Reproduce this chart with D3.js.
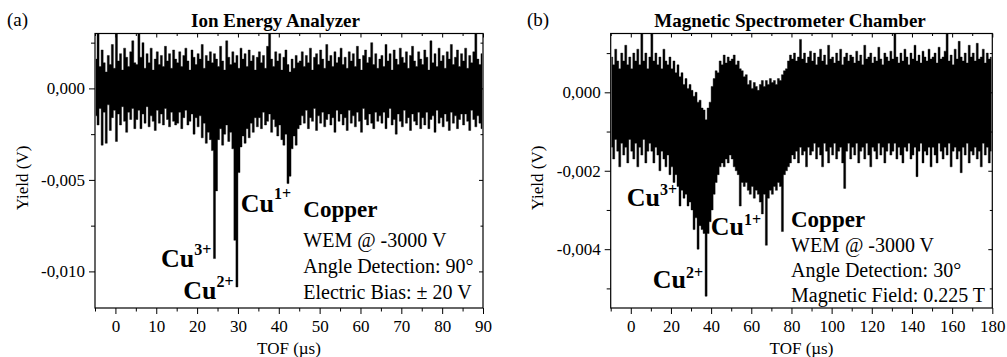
<!DOCTYPE html>
<html>
<head>
<meta charset="utf-8">
<script src="https://cdn.jsdelivr.net/npm/d3@7"></script>
<style>
  html, body { margin: 0; padding: 0; background: #fff; }
  svg { display: block; font-family: "Liberation Serif", "Times New Roman", serif; }
</style>
</head>
<body>
<svg id="chart" width="1007" height="357"></svg>
<script>
// (a) Ion Energy Analyzer: highest / lowest reading of the trace in each 0.5 us bin from -5 us, in mV
const ionStart = -5, ionStep = 0.5;
const ionHi = [
  1.6, 3.5, 1.2, 2.1, 1.4, 0.9, 1.8, 1.3, 2.4, 1.1, 3.5, 1.5, 1.9, 1.0, 2.2, 1.7, 1.2, 2.0, 2.6, 1.4,
  1.3, 3.5, 1.7, 2.5, 1.1, 1.9, 1.4, 2.2, 1.0, 1.6, 2.0, 1.3, 1.8, 1.2, 2.3, 1.5, 1.9, 1.1, 2.1, 1.6,
  1.4, 2.0, 1.2, 1.8, 2.2, 1.5, 1.0, 2.1, 1.7, 1.3, 1.9, 1.6, 2.4, 1.1, 1.8, 1.5, 2.0, 1.4, 1.9, 1.6,
  1.2, 2.3, 1.5, 1.0, 2.6, 1.7, 1.3, 2.0, 1.4, 1.8, 1.1, 2.2, 1.6, 1.9, 1.2, 2.1, 1.5, 1.8, 1.0, 1.7,
  2.0, 1.4, 1.8, 1.1, 2.3, 3.5, 1.6, 1.2, 2.0, 1.5, 1.9, 1.0, 1.7, 2.1, 1.3, 0.9, 1.6, 1.1, 1.8, 1.4,
  1.5, 2.0, 1.2, 1.8, 1.4, 2.2, 1.0, 1.7, 1.9, 1.3, 2.1, 1.6, 1.1, 2.4, 1.5, 1.8, 1.2, 2.0, 1.4, 1.7,
  2.2, 1.3, 1.7, 1.1, 2.0, 1.5, 1.9, 1.2, 2.3, 1.6, 1.0, 1.8, 2.1, 1.4, 1.7, 2.5, 1.3, 1.9, 1.1, 1.6,
  1.8, 1.2, 2.4, 1.5, 1.9, 1.0, 2.1, 1.6, 1.3, 2.2, 1.7, 1.4, 2.0, 1.1, 1.8, 2.3, 1.5, 1.2, 2.0, 1.6,
  1.3, 2.1, 1.7, 1.0, 2.6, 1.4, 1.9, 1.2, 2.2, 1.5, 1.8, 1.1, 2.0, 1.6, 2.4, 1.3, 1.7, 2.1, 1.2, 1.9,
  1.5, 2.2, 1.1, 1.8, 1.4, 2.0, 3.5, 1.6, 1.3, 1.9
];
const ionLo = [
  -1.5, -2.0, -1.1, -3.1, -1.3, -3.0, -0.9, -2.3, -1.6, -1.2, -2.9, -1.4, -2.0, -1.0, -1.8, -2.4, -1.3, -1.7, -1.1, -2.2,
  -1.7, -1.2, -2.2, -1.4, -1.9, -1.0, -2.1, -1.5, -1.8, -2.3, -1.2, -1.9, -1.4, -2.0, -1.1, -1.7, -2.1, -1.3, -1.8, -2.0,
  -1.9, -1.3, -2.2, -1.6, -1.2, -2.0, -1.8, -1.4, -2.5, -1.6, -2.1, -1.5, -2.7, -1.9, -3.0, -2.4, -2.8, -3.4, -9.3, -5.6,
  -2.8, -2.2, -3.1, -2.5, -2.0, -2.9, -2.4, -3.3, -8.3, -10.85, -4.6, -3.2, -2.6, -3.0, -2.2, -2.7, -1.9, -2.4, -1.6, -2.1,
  -1.6, -2.2, -1.3, -2.0, -1.8, -1.4, -2.4, -1.7, -2.1, -2.6, -2.0, -2.8, -3.1, -2.5, -5.2, -4.8, -3.3, -2.6, -3.1, -2.2,
  -2.0, -1.5, -1.9, -1.2, -2.2, -1.6, -1.8, -1.1, -2.3, -1.5, -1.9, -1.3, -2.1, -1.7, -1.4, -2.0, -1.6, -2.4, -1.2, -1.8,
  -1.4, -2.0, -1.6, -2.3, -1.2, -1.9, -1.5, -2.1, -1.3, -1.8, -2.4, -1.1, -1.7, -2.0, -1.4, -1.9, -2.2, -1.3, -1.8, -1.5,
  -1.9, -1.3, -2.2, -1.6, -1.1, -2.0, -1.7, -2.5, -1.4, -1.8, -2.1, -1.2, -1.9, -1.6, -2.3, -1.4, -1.8, -2.0, -1.3, -2.2,
  -1.6, -2.0, -1.3, -2.2, -1.7, -1.5, -2.4, -1.2, -1.9, -1.6, -2.1, -1.4, -1.8, -2.3, -1.3, -1.9, -1.5, -2.2, -1.7, -1.4,
  -2.0, -1.4, -1.8, -2.3, -1.2, -1.7, -2.1, -1.5, -1.9, -2.2
];

// (b) Magnetic Spectrometer Chamber: same, 1 us bins from -10 us, in mV
const magStart = -10, magStep = 1;
const magHi = [
  0.9, 0.7, 1.1, 0.8, 0.6, 1.0, 0.8, 1.2, 0.7, 0.9, 0.6, 1.0, 0.8, 1.1, 0.7, 1.6, 0.8, 1.0, 0.6, 0.9,
  1.6, 0.8, 1.0, 0.7, 0.9, 0.6, 1.1, 0.8, 0.7, 0.9, 0.6, 0.8, 0.5, 0.7, 0.4, 0.5, 0.2, 0.35, 0.1, 0.2,
  0.05, -0.1, 0.0, -0.25, -0.2, -0.4, -0.45, -0.7, -0.4, -0.25, 0.15, 0.35, 0.55, 0.5, 0.8, 0.7, 0.95, 0.75, 0.9, 0.8,
  0.85, 0.95, 0.7, 0.8, 0.6, 0.55, 0.4, 0.45, 0.2, 0.3, 0.1, 0.25, 0.15, 0.05, 0.2, 0.3, 0.15, 0.3, 0.2, 0.35,
  0.25, 0.3, 0.2, 0.35, 0.3, 0.45, 0.55, 0.6, 0.8, 0.95, 0.85, 1.0, 0.8, 0.9, 1.35, 0.85, 1.0, 0.75, 0.9, 1.05,
  0.8, 1.0, 0.7, 0.9, 1.1, 0.8, 0.95, 0.7, 1.2, 0.85, 0.9, 0.75, 1.0, 0.8, 1.1, 0.7, 0.9, 1.0, 0.8, 0.95,
  0.9, 0.75, 1.05, 0.8, 0.95, 0.7, 1.2, 0.85, 0.9, 1.0, 0.75, 0.9, 0.8, 1.15, 0.85, 0.7, 1.0, 0.9, 0.8, 1.05,
  0.85, 1.6, 0.9, 0.75, 1.0, 0.8, 1.1, 0.9, 0.7, 1.0, 0.85, 1.2, 0.8, 0.95, 0.75, 1.05, 0.9, 0.8, 1.1, 0.85,
  0.9, 1.0, 0.75, 1.15, 0.85, 0.9, 1.05, 1.6, 0.8, 0.95, 0.7, 1.1, 0.85, 1.3, 0.9, 0.8, 1.0, 0.75, 1.2, 0.9,
  1.0, 0.8, 1.25, 0.85, 0.9, 1.1, 0.75, 1.0, 0.85, 0.9
];
const magLo = [
  -1.4, -1.7, -1.2, -1.5, -1.9, -1.3, -1.6, -1.4, -1.8, -1.2, -1.5, -1.7, -1.3, -1.9, -1.4, -1.6, -1.2, -1.8, -1.5, -1.3,
  -1.5, -1.8, -1.4, -1.6, -2.0, -1.5, -1.7, -1.9, -1.6, -2.1, -1.9, -2.3, -2.1, -2.4, -2.9, -2.5, -2.7, -2.6, -2.9, -2.8,
  -3.0, -3.5, -3.2, -4.0, -3.4, -3.5, -3.6, -5.2, -3.6, -3.3, -3.0, -2.6, -2.3, -2.1, -1.9, -1.8, -1.9, -1.7, -1.8, -1.6,
  -1.7, -1.9, -2.0, -2.1, -2.9, -2.3, -2.4, -2.3, -2.5, -2.6, -2.4, -2.7, -2.5, -2.6, -2.8, -3.1, -2.6, -3.9, -2.7, -2.5,
  -2.6, -2.4, -2.5, -2.3, -2.4, -3.55, -2.1, -2.0, -1.9, -1.8, -1.6, -1.7, -1.5, -1.8, -1.4, -1.6, -1.5, -1.9, -1.4, -1.6,
  -1.5, -1.3, -1.7, -1.4, -1.6, -1.9, -1.3, -1.5, -1.8, -1.4, -1.6, -1.3, -1.7, -1.5, -1.4, -1.8, -2.45, -1.5, -1.3, -1.7,
  -1.4, -1.6, -1.3, -1.8, -1.5, -1.4, -1.7, -1.3, -1.6, -1.9, -1.4, -1.5, -1.7, -1.3, -1.6, -1.4, -1.8, -1.5, -1.3, -1.6,
  -1.5, -1.3, -1.7, -1.4, -1.6, -1.8, -1.4, -1.5, -1.3, -1.7, -1.6, -1.4, -2.15, -1.5, -1.3, -1.8, -1.5, -1.6, -1.4, -1.9,
  -1.4, -1.6, -1.8, -1.3, -1.5, -1.7, -1.4, -1.6, -1.3, -1.9, -1.5, -1.4, -1.7, -1.5, -2.05, -1.4, -1.6, -1.3, -1.8, -1.5,
  -1.6, -1.4, -1.7, -1.5, -1.9, -1.3, -1.6, -1.4, -1.8, -1.5
];

// axis ticks
const ionXMajor = [0, 10, 20, 30, 40, 50, 60, 70, 80, 90];
const ionXMinor = [-5, 5, 15, 25, 35, 45, 55, 65, 75, 85];
const ionYMajor = [0, -0.005, -0.010];
const ionYMinor = [0.0025, -0.0025, -0.0075];
const magXMajor = [0, 20, 40, 60, 80, 100, 120, 140, 160, 180];
const magXMinor = [-10, 10, 30, 50, 70, 90, 110, 130, 150, 170];
const magYMajor = [0, -0.002, -0.004];
const magYMinor = [0.001, -0.001, -0.003, -0.005];

const svg = d3.select("#chart");
const comma = d3.formatLocale({ decimal: ",", thousands: ".", grouping: [3], currency: ["", ""], minus: "-" }).format(".3f");

function drawPanel(p) {
  const x = d3.scaleLinear().domain(p.xDomain).range([p.left, p.right]);
  const y = d3.scaleLinear().domain(p.yDomain).range([p.bottom, p.top]);
  const g = svg.append("g");

  g.append("clipPath").attr("id", "clip-" + p.id)
    .append("rect")
    .attr("x", p.left).attr("y", p.top)
    .attr("width", p.right - p.left).attr("height", p.bottom - p.top);

  // every bin is a column from its min to its max, so the dense trace reads as a solid band
  const bins = p.hi.map((h, i) => ({ t: p.start + (i + 0.5) * p.step, hi: h / 1000, lo: p.lo[i] / 1000 }));
  g.append("path")
    .datum(bins)
    .attr("clip-path", `url(#clip-${p.id})`)
    .attr("fill", "#000")
    .attr("stroke", "#000")
    .attr("stroke-width", 0.4)
    .attr("d", d3.area().curve(d3.curveStep)
      .x(d => x(d.t)).y0(d => y(d.lo)).y1(d => y(d.hi)));

  const style = sel => {
    sel.select(".domain").remove();
    sel.attr("font-family", null).attr("font-size", 17);
    sel.selectAll("line").attr("stroke-width", 1);
  };

  g.append("g").attr("transform", `translate(0,${p.bottom})`)
    .call(d3.axisBottom(x).tickValues(p.xMajor).tickSize(6).tickPadding(6).tickFormat(d3.format("d")))
    .call(style);
  g.append("g").attr("transform", `translate(0,${p.bottom})`)
    .call(d3.axisBottom(x).tickValues(p.xMinor).tickSize(3.5).tickFormat(""))
    .call(style);
  g.append("g").attr("transform", `translate(${p.left},0)`)
    .call(d3.axisLeft(y).tickValues(p.yMajor).tickSize(6).tickPadding(4).tickFormat(comma))
    .call(style);
  g.append("g").attr("transform", `translate(${p.left},0)`)
    .call(d3.axisLeft(y).tickValues(p.yMinor).tickSize(4).tickFormat(""))
    .call(style);
  // mirrored ticks on top and right, pointing inward
  g.append("g").attr("transform", `translate(0,${p.top})`)
    .call(d3.axisBottom(x).tickValues(p.xMajor).tickSize(4).tickFormat(""))
    .call(style);
  g.append("g").attr("transform", `translate(0,${p.top})`)
    .call(d3.axisBottom(x).tickValues(p.xMinor).tickSize(2.5).tickFormat(""))
    .call(style);
  g.append("g").attr("transform", `translate(${p.right},0)`)
    .call(d3.axisLeft(y).tickValues(p.yMajor).tickSize(4).tickFormat(""))
    .call(style);
  g.append("g").attr("transform", `translate(${p.right},0)`)
    .call(d3.axisLeft(y).tickValues(p.yMinor).tickSize(2.5).tickFormat(""))
    .call(style);

  g.append("rect")
    .attr("x", p.left).attr("y", p.top)
    .attr("width", p.right - p.left).attr("height", p.bottom - p.top)
    .attr("fill", "none").attr("stroke", "#000").attr("stroke-width", 1.2);

  g.append("text").attr("x", p.titleX).attr("y", 26.5)
    .attr("text-anchor", "middle").attr("font-weight", "bold").attr("font-size", 19)
    .text(p.title);
  g.append("text").attr("x", p.tagX).attr("y", 26).attr("font-size", 19).text(p.tag);

  g.append("text").attr("x", (p.left + p.right) / 2).attr("y", 354)
    .attr("text-anchor", "middle").attr("font-size", 17)
    .text("TOF (\u00b5s)");
  g.append("text")
    .attr("transform", `translate(${p.yLabelX},178) rotate(-90)`)
    .attr("text-anchor", "middle").attr("font-size", 17)
    .text("Yield (V)");

  p.ions.forEach(c => {
    const t = g.append("text").attr("x", c.x).attr("y", c.y)
      .attr("font-weight", "bold").attr("font-size", 26).text("Cu");
    t.append("tspan").attr("dy", c.up).attr("font-size", 16).text(c.sup);
  });

  g.append("text").attr("x", p.noteX).attr("y", p.noteY[0])
    .attr("font-weight", "bold").attr("font-size", 23).text("Copper");
  p.notes.forEach((s, i) => {
    g.append("text").attr("x", p.noteX).attr("y", p.noteY[i + 1])
      .attr("font-size", 20).text(s);
  });
}

drawPanel({
  id: "a", tag: "(a)", tagX: 7, title: "Ion Energy Analyzer", titleX: 275.5,
  left: 95, right: 483, top: 33.5, bottom: 308, yLabelX: 28,
  xDomain: [-5, 90], yDomain: [-0.012, 0.003],
  start: ionStart, step: ionStep, hi: ionHi, lo: ionLo,
  xMajor: ionXMajor, xMinor: ionXMinor, yMajor: ionYMajor, yMinor: ionYMinor,
  ions: [
    { x: 161, y: 266.7, up: -11.7, sup: "3+" },
    { x: 183.3, y: 299.3, up: -12, sup: "2+" },
    { x: 240.7, y: 211.7, up: -13, sup: "1+" }
  ],
  noteX: 303.3, noteY: [216.7, 247.3, 273.3, 299],
  notes: ["WEM @ -3000 V", "Angle Detection: 90\u00b0", "Electric Bias: \u00b1 20 V"]
});

drawPanel({
  id: "b", tag: "(b)", tagX: 527, title: "Magnetic Spectrometer Chamber", titleX: 790,
  left: 610.7, right: 992.3, top: 33.5, bottom: 308, yLabelX: 543,
  xDomain: [-10, 180], yDomain: [-0.0055, 0.0015],
  start: magStart, step: magStep, hi: magHi, lo: magLo,
  xMajor: magXMajor, xMinor: magXMinor, yMajor: magYMajor, yMinor: magYMinor,
  ions: [
    { x: 626.7, y: 206, up: -11, sup: "3+" },
    { x: 652.7, y: 288.3, up: -10.3, sup: "2+" },
    { x: 710.7, y: 235, up: -10, sup: "1+" }
  ],
  noteX: 791, noteY: [226.7, 251.7, 277.3, 302.3],
  notes: ["WEM @ -3000 V", "Angle Detection: 30\u00b0", "Magnetic Field: 0.225 T"]
});
</script>
</body>
</html>
